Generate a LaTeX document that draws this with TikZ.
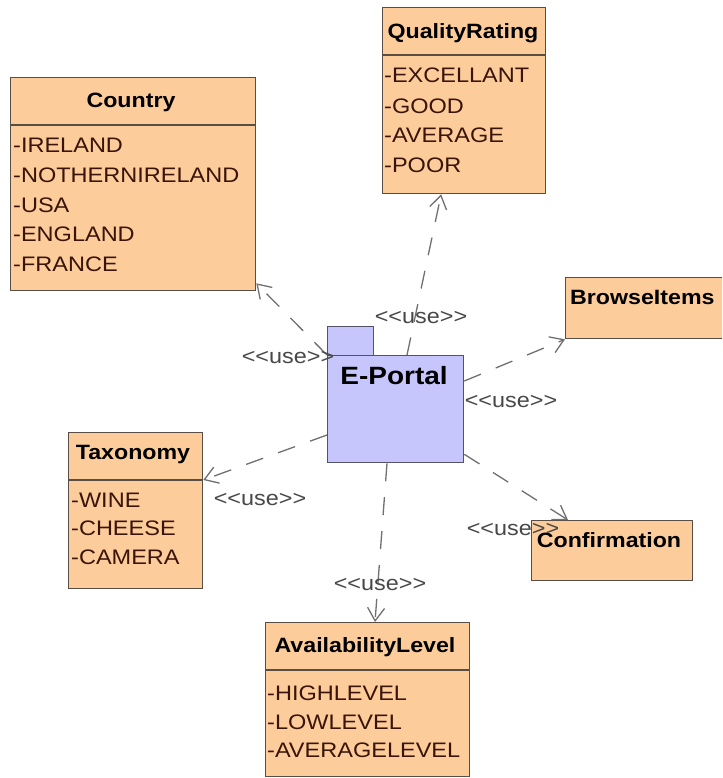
\documentclass[tikz,border=0pt]{standalone}
\usepackage{fontspec}
\newfontfamily\umlfont[FakeStretch=1.12]{Liberation Sans}
\usetikzlibrary{arrows.meta,calc}

\definecolor{classfill}{RGB}{252,204,154}
\definecolor{classedge}{RGB}{88,78,70}
\definecolor{pkgfill}{RGB}{198,198,252}
\definecolor{pkgedge}{RGB}{82,82,104}
\definecolor{itemtext}{RGB}{58,20,10}
\definecolor{depline}{RGB}{112,112,112}
\definecolor{labeltext}{RGB}{72,72,72}

\tikzset{
  classbox/.style={draw=classedge, fill=classfill, line width=1.3pt,
    inner sep=0pt, anchor=north west},
  divider/.style={draw=classedge, line width=1.3pt},
  pkgbox/.style={draw=pkgedge, fill=pkgfill, line width=1.3pt,
    inner sep=0pt, anchor=north west},
  classtitle/.style={font=\umlfont\bfseries\fontsize{20.7}{25}\selectfont,
    inner sep=0pt, text height=14.8pt, text depth=0pt, anchor=center},
  pkgtitle/.style={font=\umlfont\bfseries\fontsize{25}{30}\selectfont,
    inner sep=0pt, text height=17.9pt, text depth=0pt, anchor=center},
  literal/.style={font=\umlfont\fontsize{21}{25}\selectfont, text=itemtext,
    inner sep=0pt, text height=15pt, text depth=0pt, anchor=west},
  uses/.style={draw=depline, line width=1.3pt, dash pattern=on 18pt off 16pt,
    -{Straight Barb[length=13pt,width=17pt,line width=1.3pt]}},
  uselabel/.style={font=\umlfont\fontsize{20.9}{25}\selectfont,
    text=labeltext, inner sep=0pt, anchor=center}
}

\begin{document}
\begin{tikzpicture}[x=1pt,y=-1pt]
  \useasboundingbox (0,0) rectangle (722,778);
  \fill[white] (0,0) rectangle (722,778);
  \clip (0,0) rectangle (722,778);

  % Country
  \node[classbox, minimum width=245pt, minimum height=213pt] (country) at (10,77) {};
  \draw[divider] (10,125) -- (255,125);
  \node[classtitle] (countryname) at (131,100) {Country};
  \foreach \lit/\yy [count=\i] in {IRELAND/145, NOTHERNIRELAND/175, USA/205, ENGLAND/234, FRANCE/264}
    \node[literal] (country-\i) at (13,\yy) {-\lit};

  % QualityRating
  \node[classbox, minimum width=163pt, minimum height=186pt] (quality) at (382,7) {};
  \draw[divider] (382,55) -- (545,55);
  \node[classtitle] (qualityname) at (463,31) {QualityRating};
  \foreach \lit/\yy [count=\i] in {EXCELLANT/75, GOOD/106, AVERAGE/135, POOR/165}
    \node[literal] (quality-\i) at (384,\yy) {-\lit};

  % BrowseItems
  \node[classbox, minimum width=170pt, minimum height=61pt] (browse) at (565,277) {};
  \node[classtitle, anchor=west] (browsename) at (570,297) {BrowseItems};

  % Taxonomy
  \node[classbox, minimum width=134pt, minimum height=156pt] (taxonomy) at (68,432) {};
  \draw[divider] (68,480) -- (202,480);
  \node[classtitle] (taxonomyname) at (133,452) {Taxonomy};
  \foreach \lit/\yy [count=\i] in {WINE/500, CHEESE/528, CAMERA/557}
    \node[literal] (taxonomy-\i) at (71,\yy) {-\lit};

  % Confirmation
  \node[classbox, minimum width=161pt, minimum height=60pt] (confirm) at (531,520) {};
  \node[classtitle] (confirmname) at (609,540) {Confirmation};

  % AvailabilityLevel
  \node[classbox, minimum width=204pt, minimum height=154pt] (avail) at (265,622) {};
  \draw[divider] (265,670) -- (469,670);
  \node[classtitle] (availname) at (365,645) {AvailabilityLevel};
  \foreach \lit/\yy [count=\i] in {HIGHLEVEL/693, LOWLEVEL/722, AVERAGELEVEL/750}
    \node[literal] (avail-\i) at (267,\yy) {-\lit};

  % E-Portal package
  \node[pkgbox, minimum width=46pt, minimum height=29pt] (eptab) at (327,326) {};
  \node[pkgbox, minimum width=136pt, minimum height=107pt] (eportal) at (327,355) {};
  \node[pkgtitle] (epname) at (394,376) {E-Portal};

  % usage dependencies
  \draw[uses] (eportal.north west) -- ($(country.south east)+(0,-8)$);
  \draw[uses] ($(eportal.north west)+(80,0)$) -- ($(quality.south)+(-23,0)$);
  \draw[uses] ($(eportal.north east)+(0,26)$) -- (browse.south west);
  \draw[uses] ($(eportal.north west)+(0,80)$) -- ($(taxonomy.north east)+(0,48)$);
  \draw[uses] ($(eportal.south east)+(0,-9)$) -- ($(confirm.north west)+(37,0)$);
  \draw[uses] ($(eportal.south west)+(60,0)$) -- ($(avail.north west)+(110,0)$);

  % stereotype labels
  \node[uselabel] (use-country) at (288,358) {<{}<use>{}>};
  \node[uselabel] (use-quality) at (421,318) {<{}<use>{}>};
  \node[uselabel] (use-browse) at (511,402) {<{}<use>{}>};
  \node[uselabel] (use-taxonomy) at (260,500) {<{}<use>{}>};
  \node[uselabel] (use-confirm) at (513,530) {<{}<use>{}>};
  \node[uselabel] (use-avail) at (380,585) {<{}<use>{}>};
\end{tikzpicture}
\end{document}
